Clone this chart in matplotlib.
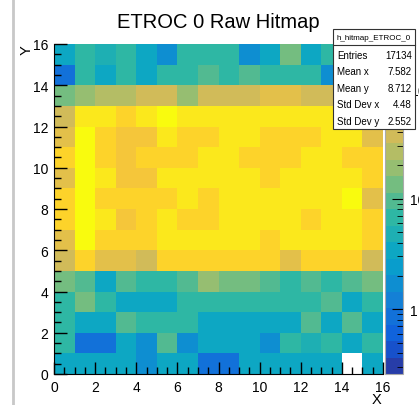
import numpy as np
import matplotlib
matplotlib.use("Agg")
import matplotlib.pyplot as plt
from matplotlib.colors import LinearSegmentedColormap, ListedColormap, LogNorm
from matplotlib.patches import Rectangle
from matplotlib.lines import Line2D

plt.rcParams['font.family'] = ['Liberation Sans', 'DejaVu Sans']

title = "ETROC 0 Raw Hitmap"
hist_name = "h_hitmap_ETROC_0"
stat_names = ["Entries", "Mean x", "Mean y", "Std Dev x", "Std Dev y"]
stat_values = ["17134", "7.582", "8.712", "4.48", "2.552"]

# hit counts per pixel, rows listed from top (row 15) down to row 0, columns 0..15
hits_top_down = [
    [4, 6, 5, 8, 3, 2, 6, 6, 6, 2, 4, 12, 3, 6, 5, 5],
    [1, 7, 4, 7, 4, 6, 6, 9, 6, 9, 6, 6, 6, 2, 4, 5],
    [12, 20, 28, 28, 40, 40, 22, 40, 40, 40, 50, 50, 35, 40, 40, 30],
    [40, 150, 150, 100, 150, 200, 150, 150, 150, 150, 150, 150, 150, 150, 150, 80],
    [55, 200, 100, 75, 75, 150, 100, 100, 150, 150, 100, 100, 100, 150, 150, 60],
    [90, 200, 100, 75, 100, 100, 100, 150, 150, 100, 100, 100, 150, 150, 100, 90],
    [60, 200, 150, 75, 75, 150, 150, 150, 150, 150, 100, 150, 150, 150, 150, 100],
    [90, 200, 100, 100, 100, 100, 150, 100, 150, 150, 150, 150, 150, 150, 200, 50],
    [90, 200, 150, 75, 100, 150, 100, 100, 150, 150, 150, 150, 100, 150, 150, 90],
    [60, 200, 100, 100, 100, 150, 150, 150, 150, 150, 100, 150, 150, 150, 150, 90],
    [40, 100, 60, 60, 40, 100, 100, 100, 100, 100, 100, 60, 100, 100, 100, 40],
    [13, 9, 3, 9, 6, 6, 9, 20, 14, 14, 9, 6, 9, 6, 9, 14],
    [6, 16, 6, 3, 3, 3, 6, 6, 6, 8, 8, 6, 6, 9, 3, 6],
    [6, 4, 3, 9, 6, 6, 6, 3, 3, 4, 3, 3, 9, 3, 9, 3],
    [6, 1, 1, 3, 2, 10, 2, 3, 3, 3, 2, 6, 5, 6, 3, 6],
    [4, 3, 3, 3, 2, 3, 3, 1, 1, 3, 3, 3, 3, 4, 0, 3],
]
z_min = 0.26
z_max = 250

# ROOT kBird palette, 20 contour levels
bird_stops = [0.0, 0.125, 0.25, 0.375, 0.5, 0.625, 0.75, 0.875, 1.0]
bird_r = [0.2082, 0.0592, 0.0780, 0.0232, 0.1802, 0.5301, 0.8186, 0.9956, 0.9764]
bird_g = [0.1664, 0.3599, 0.5041, 0.6419, 0.7178, 0.7492, 0.7328, 0.7862, 0.9832]
bird_b = [0.5293, 0.8684, 0.8385, 0.7914, 0.6425, 0.4662, 0.3499, 0.1968, 0.0539]
bird = LinearSegmentedColormap.from_list(
    "bird", list(zip(bird_stops, zip(bird_r, bird_g, bird_b))), N=255)
ncont = 20
cmap = ListedColormap([bird(min((i + 0.99) / ncont, 1.0)) for i in range(ncont)])
cmap.set_bad("white")

hits = np.array(hits_top_down, dtype=float)[::-1]
hits = np.ma.masked_where(hits <= 0, hits)
edges = np.arange(17)

fig = plt.figure(figsize=(4.19, 4.06), dpi=100)
ax = fig.add_axes([54/419, 31/406, 329/419, 330/406])
cax = fig.add_axes([385/419, 31/406, 18/419, 330/406])

mesh = ax.pcolormesh(edges, edges, hits, cmap=cmap, norm=LogNorm(vmin=z_min, vmax=z_max))
ax.set_xlim(0, 16)
ax.set_ylim(0, 16)
ax.set_xticks(np.arange(0, 17, 2))
ax.set_yticks(np.arange(0, 17, 2))
ax.set_xticks(np.arange(0, 16.1, 0.5), minor=True)
ax.set_yticks(np.arange(0, 16.1, 0.5), minor=True)
ax.tick_params(which='major', direction='in', length=9, width=1, labelsize=10, pad=4)
ax.tick_params(which='minor', direction='in', length=5, width=1)
for s in ['top', 'right']:
    ax.spines[s].set_visible(False)
ax.set_xlabel("X", loc='right', fontsize=10.5)
ax.xaxis.set_label_coords(0.995, -0.054)
ax.set_ylabel("Y", loc='top', fontsize=10.5)
ax.yaxis.set_label_coords(-0.062, 1.0)
ax.set_title(title, fontsize=14.5, pad=12)

cb = fig.colorbar(mesh, cax=cax)
cb.outline.set_edgecolor('#aaaaaa')
cax.tick_params(which='both', direction='in', labelsize=10, pad=5)
cax.tick_params(which='major', length=8)
cax.tick_params(which='minor', length=4)
cax.set_yticks([1, 10, 100])
cax.set_yticklabels(["1", "10", "10$^{2}$"])

# stats box
bx0, bx1 = 333/419, 415/419
by0, by1, byh = 1 - 130/406, 1 - 30/406, 1 - 46/406
fig.add_artist(Rectangle((bx0, by0), bx1 - bx0, by1 - by0, transform=fig.transFigure,
                         facecolor='white', edgecolor='#333333', lw=0.8, zorder=10))
fig.add_artist(Line2D([bx0, bx1], [byh, byh], transform=fig.transFigure,
                      color='#333333', lw=0.8, zorder=11))
fig.text((bx0 + bx1) / 2, 1 - 38/406, hist_name, ha='center', va='center',
         fontsize=5.8, zorder=12)
for i, (name, val) in enumerate(zip(stat_names, stat_values)):
    yy = 1 - (56 + i * 16.4) / 406
    fig.text(337/419, yy, name, ha='left', va='center', fontsize=7, zorder=12)
    fig.text(412/419, yy, val, ha='right', va='center', fontsize=7, zorder=12)

fig.add_artist(Line2D([13/419, 13/419], [0, 1], transform=fig.transFigure,
                      color='#c8c8c8', lw=2))

fig.savefig("out.png", dpi=100)
